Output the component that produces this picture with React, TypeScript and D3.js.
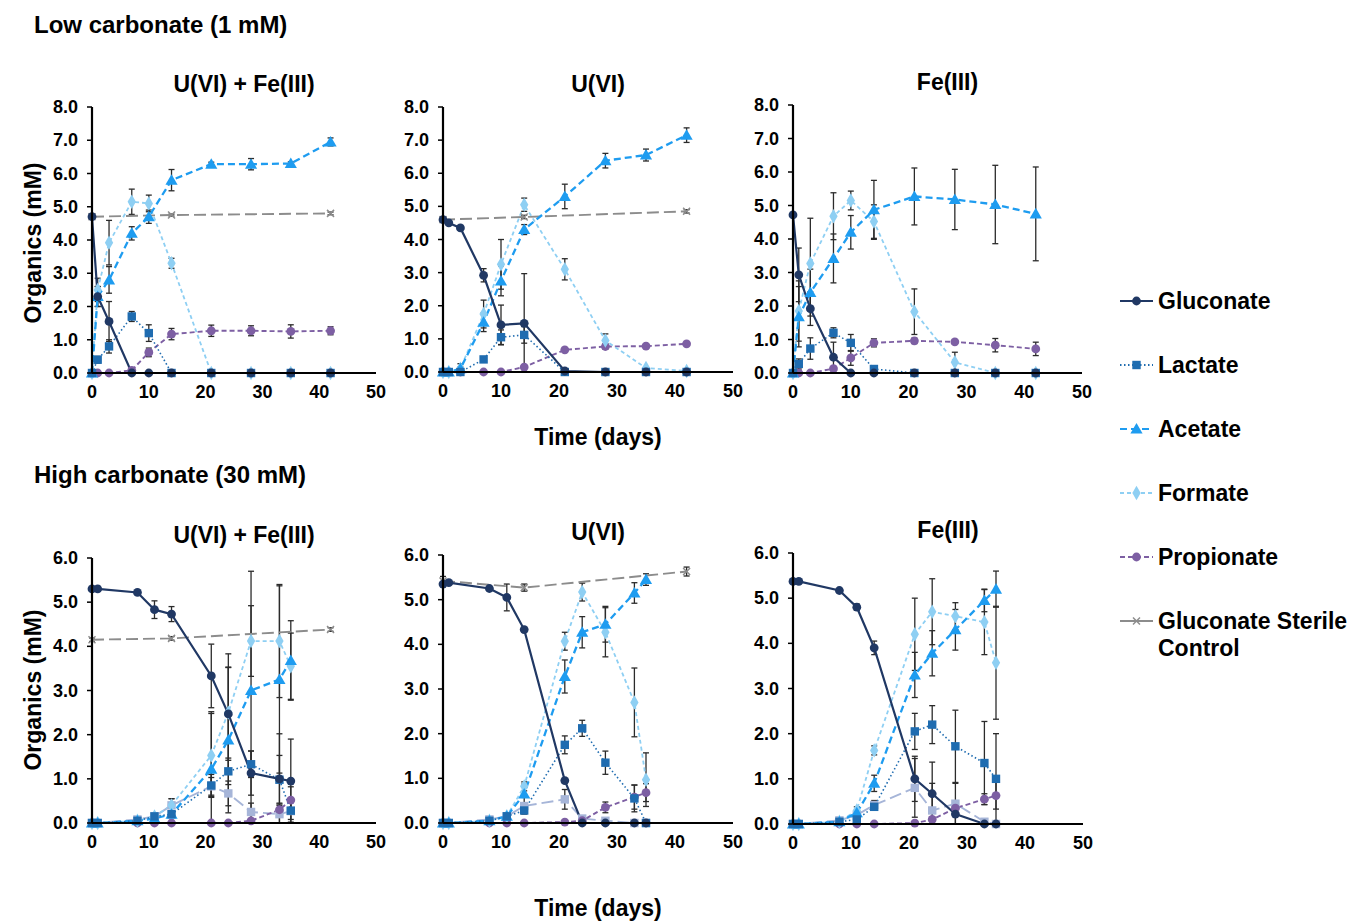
import React from 'react';
import * as d3 from 'd3';

// time points
const lowDays = [0, 1, 3, 7, 10, 14, 21, 28, 35, 42];
const highDays = [0, 1, 8, 11, 14, 21, 24, 28, 33, 35];
const ctrlDays = [0, 14, 42];

// ---- low carbonate, U(VI) + Fe(III)
const lowUFeGlu = [4.7, 2.3, 1.55, 0, 0, 0, 0, 0, 0, 0];
const lowUFeGluErr = [0.05, 0.3, 0.6, 0, 0, 0, 0, 0, 0, 0];
const lowUFeLac = [0, 0.4, 0.8, 1.7, 1.2, 0, 0, 0, 0, 0];
const lowUFeLacErr = [0, 0.1, 0.2, 0.15, 0.25, 0, 0, 0, 0, 0];
const lowUFeAce = [0, 2.3, 2.8, 4.2, 4.7, 5.8, 6.28, 6.28, 6.3, 6.95];
const lowUFeAceErr = [0, 0.3, 0.4, 0.2, 0.2, 0.32, 0.06, 0.17, 0.05, 0.12];
const lowUFeFor = [0, 2.5, 3.92, 5.15, 5.1, 3.3, 0, 0, 0, 0];
const lowUFeForErr = [0, 0.35, 0.67, 0.38, 0.25, 0.15, 0, 0, 0, 0];
const lowUFePro = [0, 0, 0, 0.08, 0.62, 1.17, 1.27, 1.27, 1.25, 1.27];
const lowUFeProErr = [0, 0, 0, 0.05, 0.13, 0.17, 0.17, 0.15, 0.2, 0.12];
const lowUFeCtl = [4.7, 4.75, 4.8];
const lowUFeCtlErr = [0.03, 0.03, 0.04];

// ---- low carbonate, U(VI)
const lowUGlu = [4.6, 4.5, 4.35, 2.92, 1.42, 1.47, 0.03, 0, 0, 0];
const lowUGluErr = [0.03, 0.03, 0.05, 0.2, 0.6, 1.5, 0, 0, 0, 0];
const lowULac = [0, 0, 0, 0.38, 1.05, 1.12, 0, 0, 0, 0];
const lowULacErr = [0, 0, 0, 0.05, 0.22, 0.25, 0, 0, 0, 0];
const lowUAce = [0, 0, 0.1, 1.5, 2.75, 4.3, 5.3, 6.38, 6.55, 7.15];
const lowUAceErr = [0, 0, 0.05, 0.28, 0.45, 0.15, 0.37, 0.22, 0.18, 0.22];
const lowUFor = [0, 0, 0.1, 1.75, 3.25, 5.05, 3.1, 0.95, 0.12, 0.03];
const lowUForErr = [0, 0, 0.15, 0.42, 0.75, 0.2, 0.32, 0.2, 0, 0];
const lowUPro = [0, 0, 0, 0, 0, 0.15, 0.67, 0.77, 0.78, 0.85];
const lowUProErr = [0, 0, 0, 0, 0, 0.05, 0.04, 0.08, 0.03, 0.04];
const lowUCtl = [4.6, 4.68, 4.85];
const lowUCtlErr = [0.04, 0.05, 0.05];

// ---- low carbonate, Fe(III)
const lowFeGlu = [4.72, 2.93, 1.92, 0.47, 0, 0, 0, 0, 0, 0];
const lowFeGluErr = [0.05, 0.8, 0.5, 0.45, 0, 0, 0, 0, 0, 0];
const lowFeLac = [0, 0.27, 0.73, 1.2, 0.9, 0.12, 0, 0, 0, 0];
const lowFeLacErr = [0, 0.15, 0.32, 0.15, 0.25, 0.1, 0, 0, 0, 0];
const lowFeAce = [0, 1.68, 2.4, 3.42, 4.2, 4.87, 5.27, 5.18, 5.03, 4.75];
const lowFeAceErr = [0, 0.9, 0.7, 0.73, 0.5, 0.88, 0.85, 0.9, 1.17, 1.4];
const lowFeFor = [0, 1.85, 3.27, 4.68, 5.15, 4.52, 1.83, 0.32, 0, 0];
const lowFeForErr = [0, 0.9, 1.35, 0.7, 0.28, 0.5, 0.68, 0.3, 0, 0];
const lowFePro = [0, 0, 0, 0.13, 0.45, 0.9, 0.96, 0.93, 0.83, 0.72];
const lowFeProErr = [0, 0, 0, 0.05, 0.22, 0.12, 0.08, 0.06, 0.2, 0.2];

// ---- high carbonate, U(VI) + Fe(III)
const highUFeGlu = [5.3, 5.3, 5.22, 4.83, 4.73, 3.33, 2.47, 1.13, 1.0, 0.95];
const highUFeGluErr = [0.03, 0.03, 0.04, 0.2, 0.17, 0.72, 1.05, 0.5, 1.02, 0.95];
const highUFeLac = [0, 0, 0.05, 0.15, 0.2, 0.85, 1.17, 1.33, 0.98, 0.28];
const highUFeLacErr = [0, 0, 0.02, 0.04, 0.05, 0.25, 0.3, 0.3, 0.55, 0.2];
const highUFeAce = [0, 0, 0.05, 0.1, 0.2, 1.22, 1.88, 3.0, 3.25, 3.68];
const highUFeAceErr = [0, 0, 0.02, 0.04, 0.05, 1.3, 1.65, 2.7, 2.12, 0.9];
const highUFeFor = [0, 0, 0.05, 0.15, 0.4, 1.53, 2.5, 4.12, 4.12, 3.55];
const highUFeForErr = [0, 0, 0.02, 0.03, 0.15, 0.95, 1.33, 0.8, 1.28, 0.75];
const highUFePro = [0, 0, 0, 0, 0, 0, 0, 0.05, 0.3, 0.52];
const highUFeProErr = [0, 0, 0, 0, 0, 0, 0, 0, 0.15, 0.3];
const highUFeOth = [0, 0, 0.08, 0.15, 0.4, 0.83, 0.67, 0.25, 0.2, 0.27];
const highUFeOthErr = [0, 0, 0.02, 0.04, 0.15, 0.2, 0.28, 0.2, 0.2, 0.25];
const highUFeCtl = [4.15, 4.18, 4.38];
const highUFeCtlErr = [0.04, 0.04, 0.04];

// ---- high carbonate, U(VI)
const highUGlu = [5.35, 5.38, 5.25, 5.05, 4.33, 0.95, 0, 0, 0, 0];
const highUGluErr = [0.05, 0.03, 0.04, 0.3, 0.03, 0.03, 0, 0, 0, 0];
const highULac = [0, 0, 0.05, 0.15, 0.28, 1.75, 2.12, 1.35, 0.55, 0];
const highULacErr = [0, 0, 0.02, 0.03, 0.08, 0.2, 0.18, 0.26, 0.3, 0];
const highUAce = [0, 0, 0.05, 0.15, 0.65, 3.28, 4.27, 4.45, 5.15, 5.45];
const highUAceErr = [0, 0, 0.02, 0.03, 0.22, 0.37, 0.35, 0.4, 0.23, 0.13];
const highUFor = [0, 0, 0.05, 0.15, 0.82, 4.07, 5.17, 4.27, 2.7, 0.97];
const highUForErr = [0, 0, 0.02, 0.03, 0.1, 0.2, 0.2, 0.55, 0.77, 0.6];
const highUPro = [0, 0, 0, 0, 0, 0.02, 0.05, 0.35, 0.58, 0.68];
const highUProErr = [0, 0, 0, 0, 0, 0, 0, 0.12, 0.27, 0.2];
const highUOth = [0, 0, 0.08, 0.15, 0.38, 0.53, 0.1, 0.05, 0, 0];
const highUOthErr = [0, 0, 0.02, 0.03, 0.05, 0.22, 0.02, 0.02, 0, 0];
const highUCtl = [5.42, 5.27, 5.63];
const highUCtlErr = [0.1, 0.08, 0.1];

// ---- high carbonate, Fe(III)
const highFeGlu = [5.37, 5.37, 5.17, 4.8, 3.9, 1.0, 0.67, 0.22, 0, 0];
const highFeGluErr = [0.03, 0.03, 0.04, 0.07, 0.15, 0.5, 0.7, 0.22, 0, 0];
const highFeLac = [0, 0, 0.05, 0.1, 0.38, 2.05, 2.2, 1.72, 1.35, 1.0];
const highFeLacErr = [0, 0, 0.02, 0.03, 0.05, 0.4, 0.42, 0.8, 0.92, 1.0];
const highFeAce = [0, 0, 0.05, 0.25, 0.9, 3.3, 3.78, 4.3, 4.95, 5.2];
const highFeAceErr = [0, 0, 0.02, 0.05, 0.18, 0.5, 0.5, 0.45, 0.25, 0.4];
const highFeFor = [0, 0, 0.05, 0.3, 1.63, 4.2, 4.7, 4.6, 4.47, 3.57];
const highFeForErr = [0, 0, 0.02, 0.08, 0.1, 0.8, 0.73, 0.3, 0.72, 1.25];
const highFePro = [0, 0, 0, 0, 0, 0.02, 0.1, 0.35, 0.55, 0.63];
const highFeProErr = [0, 0, 0, 0, 0, 0, 0.05, 0.15, 0.12, 0.3];
const highFeOth = [0, 0, 0.08, 0.2, 0.42, 0.8, 0.3, 0.45, 0.05, 0];
const highFeOthErr = [0, 0, 0.02, 0.05, 0.1, 0.65, 0.6, 0.45, 0.05, 0];

const legendNames = ['Gluconate', 'Lactate', 'Acetate', 'Formate', 'Propionate', 'Gluconate Sterile'];

const styles = {
  glu: { color: '#203864', dash: null, width: 2.2, shape: 'circle' },
  lac: { color: '#1f6cb0', dash: '1.5,2.5', width: 1.6, shape: 'square' },
  ace: { color: '#1e9cf0', dash: '7,4', width: 2.3, shape: 'triangle' },
  for: { color: '#8ecff3', dash: '4,3', width: 1.8, shape: 'diamond' },
  pro: { color: '#7d5fa3', dash: '5,3', width: 1.9, shape: 'circle' },
  oth: { color: '#a6b5d8', dash: '12,5', width: 1.9, shape: 'square' },
  ctl: { color: '#8c8c8c', dash: '12,5', width: 1.9, shape: 'cross' },
};

type Series = { key: keyof typeof styles; days: number[]; vals: number[]; errs: number[] };

const mk = (key: keyof typeof styles, days: number[], vals: number[], errs: number[]): Series => ({ key, days, vals, errs });

const panels = [
  {
    title: 'U(VI) + Fe(III)', x0: 92, x1: 376, yTop: 107, yBot: 373, ymax: 8, tick: 1,
    series: [
      mk('ctl', ctrlDays, lowUFeCtl, lowUFeCtlErr),
      mk('pro', lowDays, lowUFePro, lowUFeProErr),
      mk('for', lowDays, lowUFeFor, lowUFeForErr),
      mk('ace', lowDays, lowUFeAce, lowUFeAceErr),
      mk('lac', lowDays, lowUFeLac, lowUFeLacErr),
      mk('glu', lowDays, lowUFeGlu, lowUFeGluErr),
    ],
  },
  {
    title: 'U(VI)', x0: 443, x1: 733, yTop: 107, yBot: 372, ymax: 8, tick: 1,
    series: [
      mk('ctl', ctrlDays, lowUCtl, lowUCtlErr),
      mk('pro', lowDays, lowUPro, lowUProErr),
      mk('for', lowDays, lowUFor, lowUForErr),
      mk('ace', lowDays, lowUAce, lowUAceErr),
      mk('lac', lowDays, lowULac, lowULacErr),
      mk('glu', lowDays, lowUGlu, lowUGluErr),
    ],
  },
  {
    title: 'Fe(III)', x0: 793, x1: 1082, yTop: 105, yBot: 373, ymax: 8, tick: 1,
    series: [
      mk('pro', lowDays, lowFePro, lowFeProErr),
      mk('for', lowDays, lowFeFor, lowFeForErr),
      mk('ace', lowDays, lowFeAce, lowFeAceErr),
      mk('lac', lowDays, lowFeLac, lowFeLacErr),
      mk('glu', lowDays, lowFeGlu, lowFeGluErr),
    ],
  },
  {
    title: 'U(VI) + Fe(III)', x0: 92, x1: 376, yTop: 558, yBot: 823, ymax: 6, tick: 1,
    series: [
      mk('ctl', ctrlDays, highUFeCtl, highUFeCtlErr),
      mk('oth', highDays, highUFeOth, highUFeOthErr),
      mk('pro', highDays, highUFePro, highUFeProErr),
      mk('for', highDays, highUFeFor, highUFeForErr),
      mk('ace', highDays, highUFeAce, highUFeAceErr),
      mk('lac', highDays, highUFeLac, highUFeLacErr),
      mk('glu', highDays, highUFeGlu, highUFeGluErr),
    ],
  },
  {
    title: 'U(VI)', x0: 443, x1: 733, yTop: 555, yBot: 823, ymax: 6, tick: 1,
    series: [
      mk('ctl', ctrlDays, highUCtl, highUCtlErr),
      mk('oth', highDays, highUOth, highUOthErr),
      mk('pro', highDays, highUPro, highUProErr),
      mk('for', highDays, highUFor, highUForErr),
      mk('ace', highDays, highUAce, highUAceErr),
      mk('lac', highDays, highULac, highULacErr),
      mk('glu', highDays, highUGlu, highUGluErr),
    ],
  },
  {
    title: 'Fe(III)', x0: 793, x1: 1083, yTop: 553, yBot: 824, ymax: 6, tick: 1,
    series: [
      mk('oth', highDays, highFeOth, highFeOthErr),
      mk('pro', highDays, highFePro, highFeProErr),
      mk('for', highDays, highFeFor, highFeForErr),
      mk('ace', highDays, highFeAce, highFeAceErr),
      mk('lac', highDays, highFeLac, highFeLacErr),
      mk('glu', highDays, highFeGlu, highFeGluErr),
    ],
  },
];

const font = '"Liberation Sans", Arial, sans-serif';
const bigSize = 23;
const tickSize = 18;

const Marker = ({ shape, x, y, color }: { shape: string; x: number; y: number; color: string }) => {
  if (shape === 'circle') return <circle cx={x} cy={y} r={4.4} fill={color} />;
  if (shape === 'square') return <rect x={x - 4.2} y={y - 4.2} width={8.4} height={8.4} fill={color} />;
  if (shape === 'triangle') {
    const p = d3.symbol(d3.symbolTriangle, 64)();
    return <path d={p || ''} transform={`translate(${x},${y + 1})`} fill={color} />;
  }
  if (shape === 'diamond') {
    const p = d3.symbol(d3.symbolDiamond, 60)();
    return <path d={p || ''} transform={`translate(${x},${y})`} fill={color} />;
  }
  // cross
  return (
    <g stroke={color} strokeWidth={1.5}>
      <line x1={x - 3.5} y1={y - 3.5} x2={x + 3.5} y2={y + 3.5} />
      <line x1={x - 3.5} y1={y + 3.5} x2={x + 3.5} y2={y - 3.5} />
    </g>
  );
};

const Panel = ({ p }: { p: typeof panels[number] }) => {
  const x = d3.scaleLinear().domain([0, 50]).range([p.x0, p.x1]);
  const y = d3.scaleLinear().domain([0, p.ymax]).range([p.yBot, p.yTop]);
  const line = d3.line<number[]>().x(d => x(d[0])).y(d => y(d[1]));
  const yTicks = d3.range(0, p.ymax + 0.001, p.tick);
  const xTicks = d3.range(0, 51, 10);
  const cx = (p.x0 + p.x1) / 2 + 10;
  return (
    <g>
      <text x={cx} y={p.yTop - 15} textAnchor="middle" fontSize={bigSize} fontWeight="bold" fontFamily={font}>{p.title}</text>
      {/* error bars */}
      {p.series.map((s, si) => (
        <g key={'e' + si} stroke="#2b2b2b" strokeWidth={1.3}>
          {s.vals.map((v, i) => {
            const e = s.errs[i];
            if (!e) return null;
            const xx = x(s.days[i]);
            const lo = y(Math.max(0, v - e));
            const hi = y(v + e);
            return (
              <g key={i}>
                <line x1={xx} x2={xx} y1={lo} y2={hi} />
                <line x1={xx - 3} x2={xx + 3} y1={lo} y2={lo} />
                <line x1={xx - 3} x2={xx + 3} y1={hi} y2={hi} />
              </g>
            );
          })}
        </g>
      ))}
      {/* lines */}
      {p.series.map((s, si) => {
        const st = styles[s.key];
        return (
          <path key={'l' + si} d={line(s.days.map((d, i) => [d, s.vals[i]])) || ''} fill="none"
            stroke={st.color} strokeWidth={st.width} strokeDasharray={st.dash || undefined} />
        );
      })}
      {/* markers */}
      {p.series.map((s, si) => {
        const st = styles[s.key];
        return (
          <g key={'m' + si}>
            {s.vals.map((v, i) => <Marker key={i} shape={st.shape} x={x(s.days[i])} y={y(v)} color={st.color} />)}
          </g>
        );
      })}
      {/* axes */}
      <line x1={p.x0} x2={p.x1} y1={p.yBot} y2={p.yBot} stroke="#000" strokeWidth={2.2} />
      <line x1={p.x0} x2={p.x0} y1={p.yTop} y2={p.yBot} stroke="#000" strokeWidth={2.2} />
      {yTicks.map(t => (
        <g key={'y' + t}>
          <line x1={p.x0 - 5} x2={p.x0} y1={y(t)} y2={y(t)} stroke="#000" strokeWidth={1.5} />
          <text x={p.x0 - 14} y={y(t) + 6} textAnchor="end" fontSize={tickSize} fontWeight="bold" fontFamily={font}>{t.toFixed(1)}</text>
        </g>
      ))}
      {xTicks.map(t => (
        <text key={'x' + t} x={x(t)} y={p.yBot + 25} textAnchor="middle" fontSize={tickSize} fontWeight="bold" fontFamily={font}>{t}</text>
      ))}
    </g>
  );
};

const legendKeys: (keyof typeof styles)[] = ['glu', 'lac', 'ace', 'for', 'pro', 'ctl'];

export default function App() {
  return (
    <svg width={1358} height={923} style={{ position: 'absolute', left: 0, top: 0, background: '#fff' }}>
      <text x={34} y={33} fontSize={24} fontWeight="bold" fontFamily={font}>Low carbonate (1 mM)</text>
      <text x={34} y={483} fontSize={24} fontWeight="bold" fontFamily={font}>High carbonate (30 mM)</text>
      {panels.map((p, i) => <Panel key={i} p={p} />)}
      <text x={598} y={445} textAnchor="middle" fontSize={bigSize} fontWeight="bold" fontFamily={font}>Time (days)</text>
      <text x={598} y={916} textAnchor="middle" fontSize={bigSize} fontWeight="bold" fontFamily={font}>Time (days)</text>
      <text transform="translate(41,243) rotate(-90)" textAnchor="middle" fontSize={bigSize} fontWeight="bold" fontFamily={font}>Organics (mM)</text>
      <text transform="translate(41,690) rotate(-90)" textAnchor="middle" fontSize={bigSize} fontWeight="bold" fontFamily={font}>Organics (mM)</text>
      {legendKeys.map((k, i) => {
        const st = styles[k];
        const yy = 301 + i * 64;
        return (
          <g key={k}>
            <line x1={1120} x2={1153} y1={yy} y2={yy} stroke={st.color} strokeWidth={1.8}
              strokeDasharray={k === 'ctl' || !st.dash ? undefined : st.dash} />
            <Marker shape={st.shape} x={1136.5} y={yy} color={st.color} />
            <text x={1158} y={yy + 8} fontSize={bigSize} fontWeight="bold" fontFamily={font}>{legendNames[i]}</text>
            {k === 'ctl' && <text x={1158} y={yy + 35} fontSize={bigSize} fontWeight="bold" fontFamily={font}>Control</text>}
          </g>
        );
      })}
    </svg>
  );
}
